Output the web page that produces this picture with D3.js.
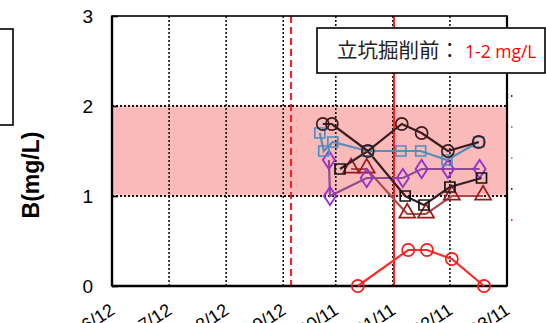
<!DOCTYPE html>
<html>
<head>
<meta charset="utf-8">
<script src="https://cdn.jsdelivr.net/npm/d3@7"></script>
<style>
  html, body { margin: 0; padding: 0; background: #fff; overflow: hidden; }
  svg { display: block; }
</style>
</head>
<body>
<svg id="chart" width="546" height="323"></svg>
<script>
// Axis ticks
const xTickDates = ["2016-12-01", "2017-12-01", "2018-12-01", "2019-12-01",
                    "2020-11-01", "2021-11-01", "2022-11-01", "2023-11-01"];
const xTickLabels = ["2016/12", "2017/12", "2018/12", "2019/12",
                     "2020/11", "2021/11", "2022/11", "2023/11"];
const yTicks = [0, 1, 2, 3];

// Reference band (pre-excavation range) and event markers
const bandRange = [1, 2];
const dashedEventDate = "2020-01-20";
const solidEventDate = "2021-11-08";

// Boron concentration by observation point (mg/L)
const darkCircleDates  = ["2020-08-10", "2020-10-07", "2021-05-25", "2021-12-28", "2022-05-04", "2022-10-19", "2023-05-04"];
const darkCircleValues = [1.8, 1.8, 1.5, 1.8, 1.7, 1.5, 1.6];

const blueSquareDates  = ["2020-07-22", "2020-08-16", "2020-10-13", "2021-05-25", "2021-12-22", "2022-04-28", "2022-10-13", "2023-05-04"];
const blueSquareValues = [1.7, 1.5, 1.6, 1.5, 1.5, 1.5, 1.4, 1.6];

const purpleDiamondDates  = ["2020-09-18", "2020-09-25", "2021-05-18", "2022-01-04", "2022-05-04", "2022-10-19", "2023-05-10"];
const purpleDiamondValues = [1.4, 1.0, 1.2, 1.2, 1.3, 1.3, 1.3];

const blackSquareDates  = ["2020-11-28", "2021-05-25", "2022-01-19", "2022-05-19", "2022-11-01", "2023-05-22"];
const blackSquareValues = [1.3, 1.5, 1.0, 0.9, 1.1, 1.2];

const triangleDates  = ["2021-02-07", "2021-05-18", "2022-02-01", "2022-06-01", "2022-11-13", "2023-06-01"];
const triangleValues = [1.3, 1.3, 0.8, 0.8, 1.0, 1.0];

const redCircleDates  = ["2021-03-22", "2022-02-07", "2022-06-07", "2022-11-13", "2023-06-07"];
const redCircleValues = [0, 0.4, 0.4, 0.3, 0];

// Partially visible legend swatches at the right edge
const legendSwatchColors = ["#404040", "#7f8fa8", "#5fb0d8", "#404040", "#ff3030"];

const parse = d3.timeParse("%Y-%m-%d");
const svg = d3.select("#chart");

const plot = { left: 112, right: 507, top: 16, bottom: 286 };

const x = d3.scaleTime()
  .domain([parse(xTickDates[0]), parse(xTickDates[xTickDates.length - 1])])
  .range([plot.left, plot.right]);
const y = d3.scaleLinear().domain([0, 3]).range([plot.bottom, plot.top]);

// soft edge for the reference band
const defs = svg.append("defs");
defs.append("filter").attr("id", "soft")
  .attr("x", "-5%").attr("y", "-20%").attr("width", "110%").attr("height", "140%")
  .append("feGaussianBlur").attr("stdDeviation", 1.6);
defs.append("clipPath").attr("id", "plotClip")
  .append("rect").attr("x", plot.left).attr("y", plot.top)
  .attr("width", plot.right - plot.left).attr("height", plot.bottom - plot.top);

svg.append("g").attr("clip-path", "url(#plotClip)")
  .append("rect")
  .attr("x", plot.left)
  .attr("y", y(bandRange[1]))
  .attr("width", plot.right - plot.left)
  .attr("height", y(bandRange[0]) - y(bandRange[1]))
  .attr("fill", "#fbbaba")
  .attr("filter", "url(#soft)");

// vertical dotted gridlines
svg.append("g").selectAll("line")
  .data(xTickDates.slice(1, -1))
  .join("line")
  .attr("x1", d => x(parse(d))).attr("x2", d => x(parse(d)))
  .attr("y1", plot.top).attr("y2", plot.bottom)
  .attr("stroke", "#111").attr("stroke-width", 1.6).attr("stroke-dasharray", "2,2");

// horizontal dotted gridlines
svg.append("g").selectAll("line")
  .data(yTicks.slice(1, -1))
  .join("line")
  .attr("x1", plot.left).attr("x2", plot.right)
  .attr("y1", d => y(d)).attr("y2", d => y(d))
  .attr("stroke", "#111").attr("stroke-width", 1.8).attr("stroke-dasharray", "2,2");

// event lines
svg.append("line")
  .attr("x1", x(parse(dashedEventDate))).attr("x2", x(parse(dashedEventDate)))
  .attr("y1", plot.top).attr("y2", plot.bottom)
  .attr("stroke", "#ff1a1a").attr("stroke-width", 2).attr("stroke-dasharray", "7,4");
svg.append("line")
  .attr("x1", x(parse(solidEventDate))).attr("x2", x(parse(solidEventDate)))
  .attr("y1", plot.top).attr("y2", plot.bottom)
  .attr("stroke", "#ff1a1a").attr("stroke-width", 2);

// plot frame
svg.append("rect")
  .attr("x", plot.left).attr("y", plot.top)
  .attr("width", plot.right - plot.left).attr("height", plot.bottom - plot.top)
  .attr("fill", "none").attr("stroke", "#000").attr("stroke-width", 1.6);
svg.append("line").attr("x1", plot.left).attr("x2", plot.left)
  .attr("y1", plot.top).attr("y2", plot.bottom).attr("stroke", "#000").attr("stroke-width", 2.4);
svg.append("line").attr("x1", plot.left).attr("x2", plot.right)
  .attr("y1", plot.bottom).attr("y2", plot.bottom).attr("stroke", "#000").attr("stroke-width", 2.4);
svg.append("line").attr("x1", plot.right).attr("x2", plot.right)
  .attr("y1", plot.top).attr("y2", plot.bottom).attr("stroke", "#000").attr("stroke-width", 2.2);

// y axis (ticks pointing inward)
const yAxis = d3.axisLeft(y).tickValues(yTicks).tickSize(-6).tickPadding(19).tickFormat(d3.format("d"));
const yg = svg.append("g").attr("transform", `translate(${plot.left},0)`).call(yAxis);
yg.select(".domain").remove();
yg.selectAll(".tick line").attr("stroke", "#000").attr("stroke-width", 1.6);
yg.selectAll(".tick text")
  .attr("font-family", "Liberation Sans, Arial, sans-serif")
  .attr("font-size", 19).attr("fill", "#000").attr("dy", "0.36em");

// x axis labels (rotated)
const xg = svg.append("g");
xg.selectAll("text")
  .data(xTickDates)
  .join("text")
  .attr("transform", d => `translate(${x(parse(d)) + 4},313) rotate(-33)`)
  .attr("text-anchor", "end")
  .attr("font-family", "Liberation Sans, Arial, sans-serif")
  .attr("font-size", 18).attr("fill", "#000")
  .text((d, i) => xTickLabels[i]);

// y axis title
svg.append("text")
  .attr("transform", "translate(39,175) rotate(-90)")
  .attr("text-anchor", "middle")
  .attr("font-family", "Liberation Sans, Arial, sans-serif")
  .attr("font-size", 23).attr("font-weight", "bold").attr("fill", "#000")
  .text("B(mg/L)");

// series
const series = [
  { dates: redCircleDates, values: redCircleValues, shape: "circle", marker: "#ff1a1a", line: "#ff2a2a" },
  { dates: triangleDates, values: triangleValues, shape: "triangle", marker: "#a3141a", line: "#a84a4a" },
  { dates: purpleDiamondDates, values: purpleDiamondValues, shape: "diamond", marker: "#9a2fd0", line: "#8a4e8e" },
  { dates: blackSquareDates, values: blackSquareValues, shape: "square", marker: "#141414", line: "#3a1e22" },
  { dates: blueSquareDates, values: blueSquareValues, shape: "square", marker: "#4a90c4", line: "#5a8cb4" },
  { dates: darkCircleDates, values: darkCircleValues, shape: "circle", marker: "#3a1c1e", line: "#3a1c1e" }
];

const symbolTypes = {
  circle: d3.symbolCircle,
  square: d3.symbolSquare,
  triangle: d3.symbolTriangle,
  diamond: d3.symbolDiamond
};
const symbolSizes = { circle: 115, square: 100, triangle: 110, diamond: 95 };

const lineGen = d3.line().x(d => x(d.date)).y(d => y(d.value));

series.forEach(s => {
  const pts = s.dates.map((d, i) => ({ date: parse(d), value: s.values[i] }));
  const g = svg.append("g");
  g.append("path")
    .attr("d", lineGen(pts))
    .attr("fill", "none").attr("stroke", s.line).attr("stroke-width", 2.2);
  const sym = d3.symbol().type(symbolTypes[s.shape]).size(symbolSizes[s.shape]);
  g.selectAll("path.mk")
    .data(pts)
    .join("path")
    .attr("class", "mk")
    .attr("d", sym)
    .attr("transform", d => s.shape === "diamond"
      ? `translate(${x(d.date)},${y(d.value)}) scale(1.15,1)`
      : `translate(${x(d.date)},${y(d.value) + (s.shape === "triangle" ? -1 : 0)})`)
    .attr("fill", "none").attr("stroke", s.marker).attr("stroke-width", 1.7);
});

// annotation box
svg.append("rect")
  .attr("x", 317).attr("y", 28).attr("width", 228).attr("height", 45)
  .attr("fill", "#fff").attr("stroke", "#000").attr("stroke-width", 1.6);
const note = svg.append("text")
  .attr("x", 337).attr("y", 58)
  .attr("font-family", "Noto Sans CJK JP, sans-serif")
  .attr("font-size", 20.5).attr("fill", "#222");
note.append("tspan").text("立坑掘削前：");
note.append("tspan")
  .attr("x", 465)
  .attr("fill", "#ff0000")
  .attr("font-family", "Open Sans, Noto Sans, sans-serif")
  .attr("font-size", 17.5)
  .text("1-2 mg/L");

// partial box at the left edge
svg.append("rect")
  .attr("x", -20).attr("y", 29).attr("width", 33).attr("height", 96)
  .attr("fill", "none").attr("stroke", "#000").attr("stroke-width", 1.6);

// legend swatches just outside the right frame
svg.append("g").selectAll("rect")
  .data(legendSwatchColors)
  .join("rect")
  .attr("x", 511).attr("y", (d, i) => 95 + i * 31)
  .attr("width", 1.5).attr("height", 2)
  .attr("fill", d => d);
</script>
</body>
</html>
